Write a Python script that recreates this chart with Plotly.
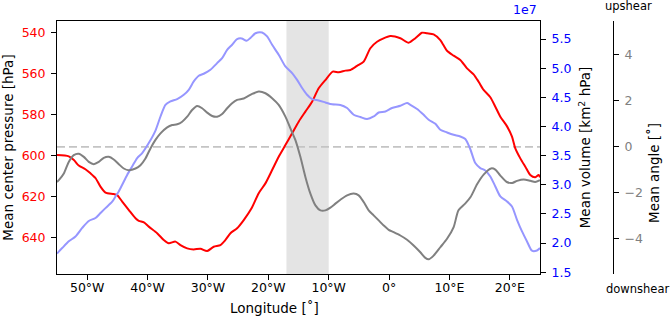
import plotly.graph_objects as go

# ---- data ----
pressure_lon = [-55.0, -53.05, -52.2, -51.4, -50.3, -49.45, -48.6, -47.8, -46.97, -45.6, -45.03, -44.2,
                -43.1, -42.0, -41.45, -40.6, -39.8, -38.41, -37.32, -36.49, -35.38, -34.55, -33.44,
                -32.35, -31.24, -30.13, -29.04, -27.93, -27.1, -26.27, -25.17, -24.07, -22.8, -21.59,
                -20.48, -19.37, -18.28, -17.17, -16.06, -14.97, -13.86, -12.75, -11.66, -10.55, -9.34,
                -8.34, -7.24, -6.41, -5.3, -4.2, -3.1, -1.99, 0.22, 1.87, 3.25, 4.35, 5.46, 6.29, 7.38,
                8.49, 9.6, 10.69, 11.8, 12.91, 14.0, 14.83, 15.66, 16.77, 17.6, 18.43, 19.54, 20.36,
                20.91, 21.74, 22.57, 23.39, 24.22, 24.77, 25.0]
pressure_hpa = [599.9, 600.5, 602.3, 605.0, 606.8, 608.8, 611.2, 615.3, 618.2, 618.9, 619.4, 622.6,
                626.7, 630.7, 632.0, 632.7, 634.8, 638.0, 641.3, 642.9, 642.1, 643.8, 645.4,
                645.9, 645.6, 646.7, 644.6, 643.8, 641.3, 638.0, 635.6, 631.6, 626.0, 618.5,
                613.7, 607.2, 600.7, 595.0, 589.3, 583.6, 578.7, 573.9, 567.3, 563.3, 559.2,
                559.5, 558.7, 558.4, 556.4, 554.3, 547.8, 544.6, 541.8, 542.9, 545.1, 542.9, 540.2, 540.5, 541.0,
                543.8, 549.0, 551.4, 553.5, 557.6, 560.5, 564.1, 568.1, 571.7, 576.3, 581.2, 585.9, 590.9,
                596.6, 601.5, 605.6, 609.6, 610.7, 609.6, 610.7]

volume_lon = [-55.0, -54.14, -53.05, -51.94, -50.83, -49.74, -48.63, -47.8, -46.97, -45.86, -45.31, -44.77,
              -44.2, -43.38, -42.55, -41.72, -40.89, -39.8, -38.69, -37.86, -37.04, -36.21, -35.1, -34.0,
              -33.18, -32.35, -31.52, -30.7, -29.59, -28.48, -27.65, -26.82, -26.0, -25.17, -24.4, -23.6,
              -22.96, -22.13, -21.03, -20.2, -19.37, -18.28, -17.17, -16.06, -15.23, -14.4, -13.58,
              -12.75, -11.66, -10.55, -9.44, -8.06, -6.95, -5.86, -4.75, -3.64, -2.55, -1.72, -0.61,
              0.49, 1.87, 2.98, 3.53, 4.64, 5.73, 6.56, 7.67, 8.49, 9.6, 10.69, 11.8, 12.63, 13.46,
              14.28, 15.11, 15.94, 16.77, 17.6, 18.43, 19.54, 20.36, 21.19, 22.02, 22.85, 23.67, 24.5, 25.0]
volume_1e7 = [1.82, 1.915, 2.03, 2.114, 2.26, 2.38, 2.43, 2.515, 2.60, 2.71, 2.80, 2.886,
              3.0, 3.17, 3.315, 3.459, 3.545, 3.716, 3.93, 4.172, 4.373, 4.43, 4.471, 4.545,
              4.63, 4.773, 4.87, 4.905, 4.973, 5.088, 5.174, 5.316, 5.402, 5.5, 5.51, 5.47,
              5.52, 5.60, 5.613, 5.545, 5.402, 5.231, 5.03, 4.917, 4.80, 4.66, 4.545,
              4.471, 4.447, 4.413, 4.38, 4.37, 4.317, 4.202, 4.162, 4.128, 4.172, 4.241, 4.258,
              4.317, 4.356, 4.402, 4.373, 4.30, 4.20, 4.116, 4.047, 3.944, 3.898, 3.858, 3.829, 3.785, 3.61,
              3.373, 3.287, 3.246, 3.143, 2.972, 2.80, 2.714, 2.629, 2.40, 2.20, 2.028, 1.869, 1.874, 1.915]

angle_lon = [-55.0, -54.7, -53.87, -53.05, -52.22, -51.39, -50.56, -49.74, -48.91, -48.08, -47.25, -46.42,
             -45.6, -44.77, -43.94, -43.11, -42.0, -41.18, -40.35, -39.52, -38.69, -37.86, -36.75, -35.93,
             -35.1, -34.27, -33.44, -32.62, -31.79, -30.96, -30.13, -29.3, -28.48, -27.65, -26.82, -26.0,
             -25.17, -24.07, -22.68, -21.59, -20.48, -19.37, -18.28, -17.17, -16.34, -15.51, -14.69,
             -13.86, -13.03, -12.2, -11.37, -10.55, -9.72, -8.89, -8.06, -6.95, -5.86, -5.03, -4.2,
             -3.38, -2.55, -1.72, -0.89, -0.06, 0.76, 1.87, 2.98, 4.07, 5.18, 6.01, 6.56, 7.38, 8.49,
             9.6, 10.7, 11.5, 12.6, 13.5, 14.6, 15.7, 16.9, 17.6, 18.4, 19.5, 20.4, 21.2, 22.3, 23.4, 24.2, 25.0]
angle_deg = [-1.53, -1.45, -1.16, -0.655, -0.36, -0.30, -0.437, -0.655, -0.755, -0.655, -0.48, -0.437,
             -0.55, -0.755, -0.943, -1.017, -0.943, -0.80, -0.507, -0.07, 0.30, 0.585, 0.847, 0.948,
             0.978, 1.092, 1.31, 1.603, 1.777, 1.677, 1.485, 1.34, 1.31, 1.428, 1.677, 1.895,
             2.04, 2.10, 2.30, 2.40, 2.33, 2.113, 1.82, 1.31, 0.80, 0.29, -0.437,
             -1.31, -2.035, -2.546, -2.764, -2.764, -2.646, -2.47, -2.30, -2.11, -2.035, -2.11, -2.40,
             -2.764, -2.98, -3.20, -3.42, -3.61, -3.71, -3.856, -4.04, -4.29, -4.585, -4.83, -4.89, -4.73, -4.367,
             -4.0, -3.49, -2.76, -2.47, -2.18, -1.62, -1.2, -0.94, -0.99, -1.24, -1.53, -1.57, -1.48, -1.42, -1.48, -1.53, -1.45]

lon_ticks = [-50, -40, -30, -20, -10, 0, 10, 20]
lon_tick_labels = ["50°W", "40°W", "30°W", "20°W", "10°W", "0°", "10°E", "20°E"]
pressure_ticks = [540, 560, 580, 600, 620, 640]
volume_ticks = [1.5, 2.0, 2.5, 3.0, 3.5, 4.0, 4.5, 5.0, 5.5]
angle_ticks = [-4, -2, 0, 2, 4]
shade_lon = [-17.0, -10.0]

FONT = "DejaVu Sans"
W, H = 671, 317
ML, MR, MT, MB = 57, 58, 21, 43
plot_w = 540 - ML
dom_w = W - ML - MR
xdom = plot_w / dom_w
ph = H - MT - MB


def px(xp):
    return (xp - ML) / dom_w


def py(yp):
    return (H - MB - yp) / ph


fig = go.Figure()
fig.add_trace(go.Scatter(x=pressure_lon, y=pressure_hpa, mode="lines", yaxis="y",
                         line=dict(color="#ff0000", width=2, shape="spline", smoothing=0.7),
                         name="pressure", showlegend=False))
fig.add_trace(go.Scatter(x=volume_lon, y=volume_1e7, mode="lines", yaxis="y2",
                         line=dict(color="rgb(150,150,255)", width=2, shape="spline", smoothing=0.7),
                         name="volume", showlegend=False))
fig.add_trace(go.Scatter(x=angle_lon, y=angle_deg, mode="lines", yaxis="y3",
                         line=dict(color="#808080", width=2, shape="spline", smoothing=0.7),
                         name="angle", showlegend=False))

fig.add_shape(type="rect", xref="x", yref="y domain", x0=shade_lon[0], x1=shade_lon[1], y0=0, y1=1,
              fillcolor="#e4e4e4", line=dict(width=0), layer="below")
fig.add_shape(type="line", xref="x domain", yref="y3", x0=0, x1=1, y0=0, y1=0,
              line=dict(color="#c4c4c4", width=1.7, dash="8px,4px"), layer="below")

axis_common = dict(showgrid=False, zeroline=False, showline=True, linecolor="black", linewidth=1,
                   ticks="outside", ticklen=5, tickwidth=1, tickcolor="black")

fig.update_layout(
    width=W, height=H,
    margin=dict(l=ML, r=MR, t=MT, b=MB, autoexpand=False),
    paper_bgcolor="white", plot_bgcolor="white",
    font=dict(family=FONT, size=13, color="black"),
    showlegend=False,
    xaxis=dict(domain=[0, xdom], range=[-55, 25], tickvals=lon_ticks, ticktext=lon_tick_labels,
               mirror=True, tickfont=dict(size=12.5, color="black"), ticklabelstandoff=-3, **axis_common),
    yaxis=dict(range=[657.9, 534.5], tickvals=pressure_ticks, tickfont=dict(size=12.5, color="#ff0000"),
               title=dict(text="Mean center pressure [hPa]", font=dict(size=13.5), standoff=8),
               ticklabelstandoff=3, **axis_common),
    yaxis2=dict(overlaying="y", side="right", anchor="x", range=[1.47, 5.81], tickvals=volume_ticks,
                tickformat=".1f", tickfont=dict(size=12.5, color="#0000ff"),
                title=dict(text="Mean volume [km<sup>2</sup> hPa]", font=dict(size=13.5), standoff=10),
                ticklabelstandoff=3, **axis_common),
    yaxis3=dict(overlaying="y", side="right", anchor="free", position=1.0, range=[-5.53, 5.47],
                tickvals=angle_ticks, tickfont=dict(size=12.5, color="#808080"),
                ticklabelstandoff=3, **axis_common),
    annotations=[
        dict(text="1e7", x=px(539), y=py(19), xref="paper", yref="paper", xanchor="right", yanchor="bottom",
             showarrow=False, font=dict(size=12.5, color="#0000ff")),
        dict(text="upshear", x=px(628), y=py(6), xref="paper", yref="paper", xanchor="center", yanchor="middle",
             showarrow=False, font=dict(size=11.5, color="black")),
        dict(text="downshear", x=px(637), y=py(289), xref="paper", yref="paper", xanchor="center",
             yanchor="middle", showarrow=False, font=dict(size=11.5, color="black")),
        dict(text="Mean angle [˚]", x=px(654), y=py(173), xref="paper", yref="paper", xanchor="center",
             yanchor="middle", textangle=-90, showarrow=False, font=dict(size=13.5, color="black")),
        dict(text="Longitude [˚]", x=px(274), y=py(308), xref="paper", yref="paper", xanchor="center",
             yanchor="middle", showarrow=False, font=dict(size=13.5, color="black")),
    ],
)

fig.write_html("out.html", config={"displayModeBar": False},
               post_script="document.body.style.margin='0';document.body.style.overflow='hidden';")
